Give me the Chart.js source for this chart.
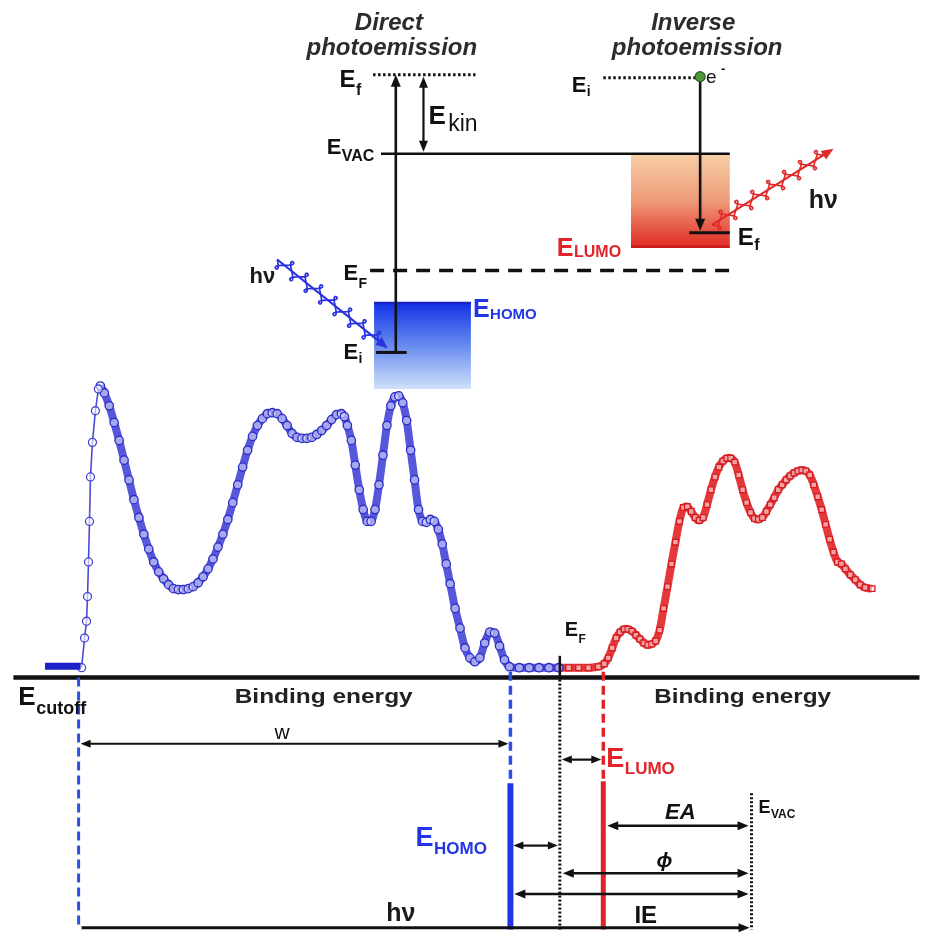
<!DOCTYPE html>
<html>
<head>
<meta charset="utf-8">
<script src="https://cdn.jsdelivr.net/npm/chart.js@4.4.1/dist/chart.umd.min.js"></script>
<style>
  html, body { margin: 0; padding: 0; background: #ffffff; }
  #wrap { width: 925px; height: 945px; position: relative; }
</style>
</head>
<body>
<div id="wrap"><canvas id="c"></canvas></div>
<script>
// ---- Spectra (energy axis in arbitrary units, intensity above the baseline) ----

// UPS: flat signal before the secondary-electron cutoff
const cutX = [4.0, 7.6];
const cutY = [1.15, 1.15];

// UPS: steep secondary-electron edge
const riseX = [7.7, 8.0, 8.2, 8.3, 8.4, 8.5, 8.6, 8.8, 9.1, 9.4];
const riseY = [1.0, 4.0, 5.7, 8.2, 11.7, 15.8, 20.3, 23.8, 27.0, 29.2];

// UPS: valence region down to the HOMO onset
const upsX = [9.6,10.0,10.5,11.0,11.5,12.0,12.5,13.0,13.5,14.0,14.5,15.0,15.5,16.0,16.5,17.0,17.5,18.0,18.5,19.0,
  19.5,20.0,20.5,21.0,21.5,22.0,22.5,23.0,23.5,24.0,24.5,25.0,25.5,26.0,26.5,27.0,27.5,28.0,28.5,29.0,
  29.5,30.0,30.5,31.0,31.5,32.0,32.5,33.0,33.5,34.0,34.3,34.6,35.0,35.4,35.8,36.2,36.6,37.0,37.4,37.8,
  38.2,38.6,39.0,39.4,39.8,40.2,40.6,41.0,41.4,41.8,42.2,42.6,43.0,43.4,43.8,44.2,44.6,45.0,45.5,46.0,
  46.5,47.0,47.5,48.0,48.5,49.0,49.5,50.0,50.5,51.0,52.0,53.0,54.0,55.0,56.0];
const upsY = [29.5,28.8,27.5,25.8,24.0,22.0,20.0,18.0,16.2,14.5,13.0,11.7,10.7,10.0,9.4,9.0,8.9,8.9,9.0,9.2,
  9.6,10.2,11.0,12.0,13.2,14.5,16.0,17.7,19.5,21.3,23.0,24.4,25.5,26.2,26.7,26.8,26.7,26.2,25.5,24.7,
  24.3,24.2,24.2,24.3,24.6,25.0,25.5,26.1,26.6,26.7,26.4,25.5,24.0,21.5,19.0,17.0,15.8,15.8,17.0,19.5,
  22.5,25.5,27.5,28.4,28.5,27.8,26.0,23.0,20.0,17.0,15.8,15.7,16.0,15.8,15.0,13.5,11.5,9.5,7.0,5.0,
  3.0,2.0,1.6,2.0,3.5,4.6,4.5,3.2,1.8,1.1,1.0,1.0,1.0,1.0,1.0];

// IPES: unoccupied states above the Fermi level
const ipesX = [56.0,57.0,58.0,59.0,60.0,60.6,61.0,61.4,61.8,62.2,62.6,63.0,63.4,63.8,64.2,64.6,65.0,65.4,65.8,66.2,
  66.6,67.0,67.4,67.8,68.2,68.6,69.0,69.4,69.8,70.2,70.6,71.0,71.4,71.8,72.2,72.6,73.0,73.4,73.8,74.2,
  74.6,75.0,75.4,75.8,76.2,76.6,77.0,77.4,77.8,78.2,78.6,79.0,79.4,79.8,80.2,80.6,81.0,81.4,81.8,82.2,
  82.6,83.0,83.4,83.8,84.2,84.6,85.0,85.5,86.0,86.5,87.0,87.7];
const ipesY = [1.0,1.0,1.0,1.0,1.1,1.4,2.0,3.0,4.0,4.6,4.9,4.9,4.7,4.3,3.9,3.5,3.3,3.4,3.7,4.8,
  7.0,9.2,11.5,13.7,15.8,17.2,17.3,16.8,16.2,15.9,16.2,17.5,19.0,20.3,21.3,21.9,22.2,22.2,21.8,20.5,
  19.0,17.7,16.7,16.1,16.0,16.2,16.8,17.5,18.2,19.0,19.5,20.0,20.4,20.7,20.9,21.0,20.9,20.5,19.5,18.3,
  17.0,15.5,14.0,12.7,11.7,11.5,11.0,10.4,9.9,9.4,9.1,9.0];

// Characteristic energies on the same axis
const levelNames  = ['E_cutoff', 'E_HOMO', 'E_F', 'E_LUMO', 'E_VAC'];
const levelEnergy = [7.4, 51.1, 56.1, 60.5, 75.5];
const [eCut, eHomo, eF, eLumo, eVac] = levelEnergy;

const toPts = (xs, ys) => xs.map((x, i) => ({ x, y: ys[i] }));

const FONT = "'Liberation Sans', Arial, Helvetica, sans-serif";
const BLUE = '#2236e6', RED = '#e0242a', INK = '#111111';

// ---- drawing helpers ----
function seg(ctx, x0, y0, x1, y1, color, w, dash) {
  ctx.save();
  ctx.strokeStyle = color; ctx.lineWidth = w; ctx.setLineDash(dash || []); ctx.lineCap = 'butt';
  ctx.beginPath(); ctx.moveTo(x0, y0); ctx.lineTo(x1, y1); ctx.stroke();
  ctx.restore();
}
function head(ctx, xt, yt, ang, color, len, hw) {
  const bx = xt - len * Math.cos(ang), by = yt - len * Math.sin(ang);
  ctx.save(); ctx.fillStyle = color; ctx.beginPath();
  ctx.moveTo(xt, yt);
  ctx.lineTo(bx + hw * Math.sin(ang), by - hw * Math.cos(ang));
  ctx.lineTo(bx - hw * Math.sin(ang), by + hw * Math.cos(ang));
  ctx.closePath(); ctx.fill(); ctx.restore();
}
function arrow(ctx, x0, y0, x1, y1, o) {
  const ang = Math.atan2(y1 - y0, x1 - x0), len = o.len || 11, hw = o.hw || 4.5, col = o.color || INK;
  let ax = x0, ay = y0, bx = x1, by = y1;
  if (o.start) { ax += len * 0.8 * Math.cos(ang); ay += len * 0.8 * Math.sin(ang); }
  if (o.end)   { bx -= len * 0.8 * Math.cos(ang); by -= len * 0.8 * Math.sin(ang); }
  seg(ctx, ax, ay, bx, by, col, o.width || 2);
  if (o.end) head(ctx, x1, y1, ang, col, len, hw);
  if (o.start) head(ctx, x0, y0, ang + Math.PI, col, len, hw);
}
// photon: straight arrow wrapped by a looped wave
function photon(ctx, x0, y0, x1, y1, color, cycles) {
  const dx = x1 - x0, dy = y1 - y0, L = Math.hypot(dx, dy);
  const ux = dx / L, uy = dy / L, nx = -uy, ny = ux;
  const span = L - 12, a = span / (2 * Math.PI * cycles), c = a * 1.15, b = 8;
  ctx.save(); ctx.strokeStyle = color; ctx.lineWidth = 1.7; ctx.lineJoin = 'round'; ctx.beginPath();
  const steps = cycles * 80;
  for (let i = 0; i <= steps; i++) {
    const t = i / 80 * 2 * Math.PI;
    const s = a * t + c * Math.sin(2 * t), p = b * Math.sin(t);
    const px = x0 + ux * s + nx * p, py = y0 + uy * s + ny * p;
    if (i) ctx.lineTo(px, py); else ctx.moveTo(px, py);
  }
  ctx.stroke(); ctx.restore();
  arrow(ctx, x0, y0, x1, y1, { color, width: 2.2, end: true, len: 12, hw: 5 });
}
function text(ctx, s, x, y, font, color, align, fitW) {
  ctx.save(); ctx.font = font; ctx.fillStyle = color; ctx.textBaseline = 'alphabetic';
  if (fitW) {
    const k = fitW / ctx.measureText(s).width;
    ctx.translate(x, y); ctx.scale(k, 1); ctx.textAlign = 'center'; ctx.fillText(s, 0, 0);
  } else {
    ctx.textAlign = align || 'left'; ctx.fillText(s, x, y);
  }
  ctx.restore();
}
// symbol with subscript, e.g. E + "HOMO"
function sym(ctx, main, sub, x, y, size, subSize, color, drop, subWeight) {
  ctx.save();
  ctx.font = 'bold ' + size + 'px ' + FONT;
  const w = ctx.measureText(main).width;
  ctx.restore();
  text(ctx, main, x, y, 'bold ' + size + 'px ' + FONT, color);
  text(ctx, sub, x + w + 0.5, y + drop, (subWeight || 'bold') + ' ' + subSize + 'px ' + FONT, color);
}

const diagram = {
  id: 'diagram',
  beforeDatasetsDraw(chart) {
    const { ctx, scales: { x: sx, y: sy } } = chart;
    const X = v => sx.getPixelForValue(v), Y = v => sy.getPixelForValue(v);

    // occupied band (HOMO) of the photoemission scheme
    let g = ctx.createLinearGradient(0, Y(38.0), 0, Y(29.2));
    g.addColorStop(0, '#1230e6'); g.addColorStop(0.45, '#5d82ee'); g.addColorStop(1, '#cfe1fb');
    ctx.fillStyle = g;
    ctx.fillRect(X(37.3), Y(38.0), X(47.1) - X(37.3), Y(29.2) - Y(38.0));
    seg(ctx, X(37.3), Y(37.9), X(47.1), Y(37.9), '#1822c8', 2.5);

    // unoccupied band (LUMO) of the inverse photoemission scheme
    g = ctx.createLinearGradient(0, Y(53.0), 0, Y(43.5));
    g.addColorStop(0, '#f6cfa6'); g.addColorStop(0.5, '#ee9a78'); g.addColorStop(1, '#e02a24');
    ctx.fillStyle = g;
    ctx.fillRect(X(63.3), Y(53.0), X(73.3) - X(63.3), Y(43.5) - Y(53.0));
    seg(ctx, X(63.3), Y(43.6), X(73.3), Y(43.6), '#c81a1a', 2.5);
  },
  afterDatasetsDraw(chart) {
    const { ctx, scales: { x: sx, y: sy } } = chart;
    const X = v => sx.getPixelForValue(v), Y = v => sy.getPixelForValue(v);
    const TITLE = 'italic bold 24px ' + FONT, GREY = '#2c2c2c';

    // ----- direct photoemission -----
    text(ctx, 'Direct', X(38.8), Y(65.5), TITLE, GREY, 'center');
    text(ctx, 'photoemission', X(39.1), Y(63.0), TITLE, GREY, 'center');
    seg(ctx, X(37.2), Y(61.0), X(47.8), Y(61.0), INK, 3, [2.5, 2.5]);
    arrow(ctx, X(39.5), Y(32.9), X(39.5), Y(61.0), { width: 2.6, end: true, len: 12, hw: 5 });
    arrow(ctx, X(42.3), Y(53.2), X(42.3), Y(60.8), { width: 2.2, start: true, end: true, len: 11, hw: 4.5 });
    seg(ctx, X(38.0), Y(53.0), X(73.3), Y(53.0), INK, 2.5);
    seg(ctx, X(36.9), Y(41.2), X(73.5), Y(41.2), INK, 3.5, [14, 9]);
    seg(ctx, X(37.5), Y(32.9), X(40.6), Y(32.9), INK, 3);
    photon(ctx, X(27.5), Y(42.3), X(38.7), Y(33.3), '#2a32e0', 7);

    sym(ctx, 'E', 'f', X(33.8), Y(59.8), 24, 16, INK, 8);
    text(ctx, 'E', X(42.8), Y(56.0), 'bold 26px ' + FONT, INK);
    text(ctx, 'kin', X(44.8), Y(55.3), '23px ' + FONT, INK);
    sym(ctx, 'E', 'VAC', X(32.5), Y(53.0), 22, 16, INK, 7);
    sym(ctx, 'E', 'F', X(34.2), Y(40.2), 22, 14, INK, 8);
    sym(ctx, 'E', 'i', X(34.2), Y(32.2), 22, 14, INK, 4);
    sym(ctx, 'E', 'HOMO', X(47.3), Y(36.5), 25, 15, BLUE, 2);
    text(ctx, 'h\u03bd', X(27.3), Y(39.9), 'bold 22px ' + FONT, '#1a1a1a', 'right');

    // ----- inverse photoemission -----
    text(ctx, 'Inverse', X(69.6), Y(65.5), TITLE, GREY, 'center');
    text(ctx, 'photoemission', X(70.0), Y(63.0), TITLE, GREY, 'center');
    seg(ctx, X(60.5), Y(60.7), X(70.0), Y(60.7), INK, 3, [2.5, 2.5]);
    arrow(ctx, X(70.3), Y(60.5), X(70.3), Y(45.2), { width: 2.6, end: true, len: 12, hw: 5 });
    seg(ctx, X(69.2), Y(45.0), X(73.3), Y(45.0), INK, 3);
    ctx.save();
    ctx.beginPath(); ctx.arc(X(70.3), Y(60.8), 5, 0, 2 * Math.PI);
    ctx.fillStyle = '#4c9a3c'; ctx.fill(); ctx.lineWidth = 1.2; ctx.strokeStyle = '#2a5a22'; ctx.stroke();
    ctx.restore();
    text(ctx, 'e', X(70.9), Y(60.2), '19px ' + FONT, INK);
    text(ctx, '-', X(72.4), Y(61.2), 'bold 13px ' + FONT, INK);
    photon(ctx, X(71.5), Y(45.8), X(83.8), Y(53.5), '#e02a2a', 7);
    text(ctx, 'h\u03bd', X(81.3), Y(47.5), 'bold 25px ' + FONT, '#1a1a1a');
    sym(ctx, 'E', 'i', X(57.3), Y(59.2), 22, 14, INK, 4);
    sym(ctx, 'E', 'f', X(74.1), Y(43.8), 24, 16, INK, 5);
    sym(ctx, 'E', 'LUMO', X(55.8), Y(42.7), 25, 16, RED, 1);

    // ----- spectrum baseline and energy markers -----
    seg(ctx, X(0.8), Y(0), X(92.5), Y(0), INK, 4.5);
    const bottom = -25.5;
    seg(ctx, X(eCut), Y(0), X(eCut), Y(bottom), '#2e4fe6', 3, [9, 5]);
    seg(ctx, X(eHomo), Y(0.6), X(eHomo), Y(-10.7), '#2e4fe6', 3.5, [9, 5]);
    seg(ctx, X(eHomo), Y(-10.7), X(eHomo), Y(bottom), BLUE, 6);
    seg(ctx, X(eF), Y(2.2), X(eF), Y(-0.2), INK, 2.5);
    seg(ctx, X(eF), Y(-0.2), X(eF), Y(bottom), INK, 3, [2, 2]);
    seg(ctx, X(eLumo), Y(0.6), X(eLumo), Y(-10.5), RED, 3.5, [9, 5]);
    seg(ctx, X(eLumo), Y(-10.5), X(eLumo), Y(bottom), RED, 5);
    seg(ctx, X(eVac), Y(-11.7), X(eVac), Y(bottom), INK, 3, [2, 2]);

    arrow(ctx, X(eCut + 0.2), Y(-6.7), X(eHomo - 0.2), Y(-6.7), { width: 2, start: true, end: true, len: 10, hw: 4 });
    arrow(ctx, X(eF + 0.2), Y(-8.3), X(eLumo - 0.2), Y(-8.3), { width: 2.2, start: true, end: true, len: 10, hw: 4 });
    arrow(ctx, X(eHomo + 0.3), Y(-17.0), X(eF - 0.2), Y(-17.0), { width: 2.2, start: true, end: true, len: 10, hw: 4 });
    arrow(ctx, X(eLumo + 0.4), Y(-15.0), X(eVac - 0.3), Y(-15.0), { width: 2.5, start: true, end: true, len: 11, hw: 4.5 });
    arrow(ctx, X(eF + 0.3), Y(-19.8), X(eVac - 0.3), Y(-19.8), { width: 2.5, start: true, end: true, len: 11, hw: 4.5 });
    arrow(ctx, X(eHomo + 0.4), Y(-21.9), X(eVac - 0.3), Y(-21.9), { width: 2.5, start: true, end: true, len: 11, hw: 4.5 });
    arrow(ctx, X(eCut + 0.3), Y(-25.3), X(eVac - 0.2), Y(-25.3), { width: 3, end: true, len: 11, hw: 4.5 });

    sym(ctx, 'E', 'cutoff', X(1.3), Y(-2.8), 26, 18, INK, 9);
    text(ctx, 'Binding energy', X(32.2), Y(-2.6), 'bold 20px ' + FONT, '#222', 'center', 178);
    text(ctx, 'Binding energy', X(74.6), Y(-2.6), 'bold 20px ' + FONT, '#222', 'center', 177);
    text(ctx, 'w', X(28.0), Y(-6.2), '21px ' + FONT, INK, 'center');
    sym(ctx, 'E', 'HOMO', X(41.5), Y(-17.0), 27, 17, BLUE, 8);
    text(ctx, 'h\u03bd', X(40.0), Y(-24.6), 'bold 25px ' + FONT, '#1a1a1a', 'center');
    sym(ctx, 'E', 'LUMO', X(60.8), Y(-9.0), 27, 17, RED, 7);
    text(ctx, 'EA', X(68.3), Y(-14.3), 'italic bold 22px ' + FONT, INK, 'center');
    text(ctx, '\u03d5', X(66.7), Y(-19.2), 'italic bold 21px ' + FONT, INK, 'center');
    text(ctx, 'IE', X(64.8), Y(-24.8), 'bold 24px ' + FONT, INK, 'center');
    sym(ctx, 'E', 'VAC', X(76.2), Y(-13.7), 18, 12, INK, 5);
    sym(ctx, 'E', 'F', X(56.6), Y(4.2), 20, 12, INK, 7);
  }
};

new Chart(document.getElementById('c'), {
  type: 'scatter',
  data: {
    datasets: [
      { label: 'UPS pre-edge', data: toPts(cutX, cutY), showLine: true,
        borderColor: '#1c20c8', borderWidth: 7, pointRadius: 0 },
      { label: 'UPS edge', data: toPts(riseX, riseY), showLine: true,
        borderColor: '#4b4bd8', borderWidth: 1.6, pointStyle: 'circle', pointRadius: 4,
        pointBorderWidth: 1.3, pointBorderColor: '#4444d0', pointBackgroundColor: 'rgba(255,255,255,0.6)' },
      { label: 'UPS', data: toPts(upsX, upsY), showLine: true, tension: 0.3,
        borderColor: 'rgba(58,58,214,0.85)', borderWidth: 8, pointStyle: 'circle', pointRadius: 4.2,
        pointBorderWidth: 1.3, pointBorderColor: '#2c2cc6', pointBackgroundColor: 'rgba(230,234,255,0.55)' },
      { label: 'IPES', data: toPts(ipesX, ipesY), showLine: true, tension: 0.3,
        borderColor: 'rgba(226,34,38,0.9)', borderWidth: 8, pointStyle: 'rect', pointRadius: 4,
        pointBorderWidth: 1.3, pointBorderColor: '#d41c20', pointBackgroundColor: 'rgba(255,236,236,0.6)' }
    ]
  },
  options: {
    responsive: true,
    maintainAspectRatio: false,
    animation: false,
    layout: { padding: 0 },
    plugins: { legend: { display: false }, tooltip: { enabled: false } },
    scales: {
      x: { type: 'linear', min: 0, max: 92.5, display: false },
      y: { type: 'linear', min: -26.5, max: 68.0, display: false }
    }
  },
  plugins: [diagram]
});
</script>
</body>
</html>
